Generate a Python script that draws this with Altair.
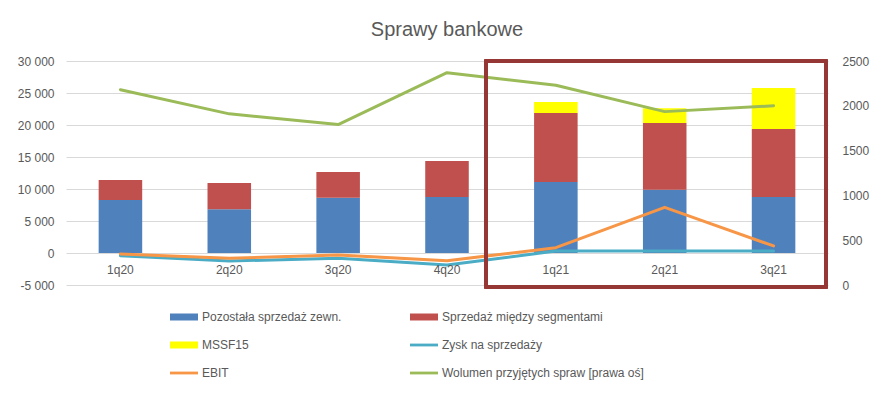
import altair as alt
import pandas as pd

quarters = ["1q20", "2q20", "3q20", "4q20", "1q21", "2q21", "3q21"]
pozostala = [8300, 6850, 8650, 8750, 11100, 9900, 8750]
miedzy_seg = [3100, 4090, 4000, 5625, 10775, 10400, 10625]
mssf15 = [0, 0, 0, 0, 1725, 2300, 6400]
zysk = [-420, -1250, -830, -1870, 300, 300, 300]
ebit = [-150, -830, -300, -1200, 830, 7140, 1100]
wolumen = [2180, 1910, 1790, 2370, 2230, 1935, 2000]

series = ["Pozostała sprzedaż zewn.", "Sprzedaż między segmentami", "MSSF15",
          "Zysk na sprzedaży", "EBIT", "Wolumen przyjętych spraw [prawa oś]"]
colors = ["#4F81BD", "#C0504D", "#FFFF00", "#4BACC6", "#F79646", "#9BBB59"]
rect_path = "M-1,-0.25L1,-0.25L1,0.25L-1,0.25Z"
line_path = "M-1,-0.1L1,-0.1L1,0.1L-1,0.1Z"
shapes = [rect_path, rect_path, rect_path, line_path, line_path, line_path]

# legend fills column-major: reorder so it reads row by row as in the original
legend_order = [0, 2, 4, 1, 3, 5]
dom = [series[i] for i in legend_order]
col_range = [colors[i] for i in legend_order]
shape_range = [shapes[i] for i in legend_order]

bar_rows = []
for i, q in enumerate(quarters):
    for k, (name, vals) in enumerate(zip(series[:3], [pozostala, miedzy_seg, mssf15])):
        bar_rows.append({"q": q, "series": name, "value": vals[i], "ord": k})
bars_df = pd.DataFrame(bar_rows)

line_rows = []
for i, q in enumerate(quarters):
    line_rows.append({"q": q, "series": series[3], "value": zysk[i]})
    line_rows.append({"q": q, "series": series[4], "value": ebit[i]})
lines_df = pd.DataFrame(line_rows)

vol_df = pd.DataFrame({"q": quarters, "series": series[5], "value": wolumen})
labels_df = pd.DataFrame({"q": quarters})
legend_df = pd.DataFrame({"series": series, "q": quarters[0], "value": 0})

xenc = alt.X("q:N", sort=quarters, axis=None,
             scale=alt.Scale(paddingInner=0.6, paddingOuter=0.3))
color_scale = alt.Scale(domain=dom, range=col_range)
yleft_scale = alt.Scale(domain=[-5000, 30000], nice=False, zero=False)
yleft_axis = alt.Axis(orient="left", values=list(range(-5000, 30001, 5000)),
                      labelExpr="replace(replace(format(datum.value, ','), regexp(',', 'g'), ' '), '\u2212', '-')",
                      grid=True, gridColor="#D9D9D9", gridWidth=1,
                      domain=False, ticks=False, labelPadding=12, title=None)
legend = alt.Legend(title=None, orient="none", legendX=104, legendY=242,
                    columns=2, columnPadding=68, rowPadding=8,
                    symbolSize=784, symbolOpacity=1, symbolStrokeWidth=0,
                    symbolType=rect_path,
                    labelFontSize=12, labelColor="#595959", labelOffset=4,
                    labelLimit=400)
color_enc = alt.Color("series:N", scale=color_scale, legend=legend)

bars = alt.Chart(bars_df).mark_bar().encode(
    x=xenc,
    y=alt.Y("value:Q", stack="zero", scale=yleft_scale, axis=yleft_axis),
    color=color_enc,
    order=alt.Order("ord:Q"),
)

lines = alt.Chart(lines_df).mark_line(strokeWidth=3, strokeCap="round", strokeJoin="round").encode(
    x=xenc,
    y=alt.Y("value:Q", scale=yleft_scale, axis=yleft_axis),
    color=color_enc,
)

xlabels = alt.Chart(labels_df).mark_text(dy=17, fontSize=12, color="#595959").encode(
    x=xenc,
    y=alt.datum(0, scale=yleft_scale, axis=yleft_axis),
    text="q:N",
)

legend_pts = alt.Chart(legend_df).mark_point(filled=True, opacity=0, size=1).encode(
    x=xenc,
    y=alt.Y("value:Q", scale=yleft_scale, axis=yleft_axis),
    color=color_enc,
    shape=alt.Shape("series:N", scale=alt.Scale(domain=dom, range=shape_range), legend=legend),
)

left = alt.layer(bars, lines, xlabels, legend_pts)

vol = alt.Chart(vol_df).mark_line(strokeWidth=3, strokeCap="round", strokeJoin="round", color="#9BBB59").encode(
    x=xenc,
    y=alt.Y("value:Q", scale=alt.Scale(domain=[0, 2500], nice=False),
            axis=alt.Axis(orient="right", values=list(range(0, 2501, 500)), format="d",
                          grid=False, domain=False, ticks=False, labelPadding=14, title=None)),
)

box = alt.Chart(labels_df).mark_rect(fill=None, stroke="#953735", strokeWidth=3).encode(
    x=alt.value(420), x2=alt.value(760), y=alt.value(0), y2=alt.value(226),
)

chart = alt.layer(left, vol, box).resolve_scale(y="independent").properties(
    width=762, height=224,
    padding={"left": 58, "top": 53, "right": 48, "bottom": 104},
    autosize=alt.AutoSizeParams(type="none"),
    title=alt.Title("Sprawy bankowe", fontSize=20, color="#595959", fontWeight="normal",
                    anchor="middle", offset=15),
).configure(font="Liberation Sans").configure_axis(
    labelFontSize=12, labelColor="#595959"
).configure_view(stroke=None)

chart.save("out.html", embed_options={"renderer": "svg", "actions": False})
